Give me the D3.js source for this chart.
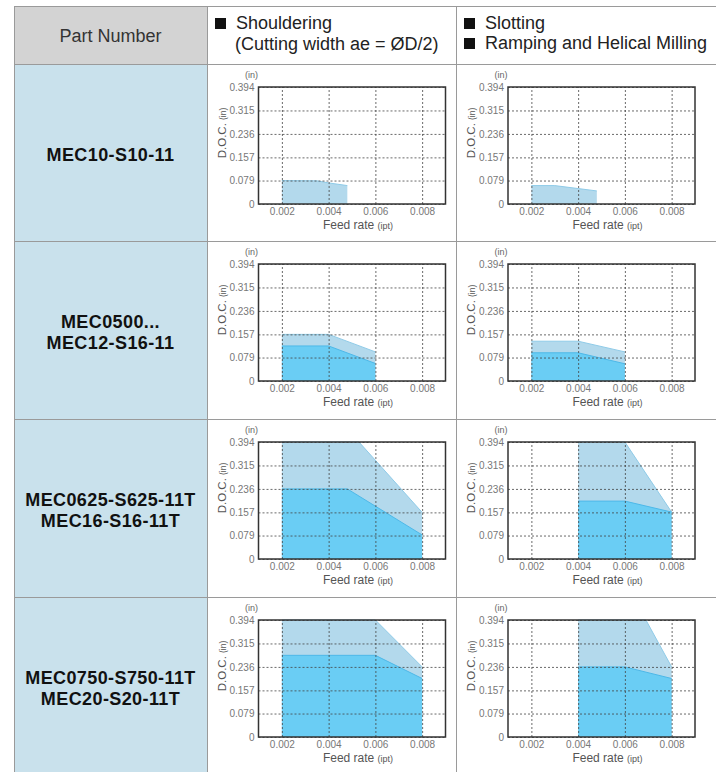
<!DOCTYPE html>
<html>
<head>
<meta charset="utf-8">
<script src="https://cdn.jsdelivr.net/npm/d3@7/dist/d3.min.js"></script>
<style>
  html, body { margin: 0; padding: 0; background: #fff; }
  svg { display: block; font-family: "Liberation Sans", Arial, sans-serif; }
</style>
</head>
<body>
<svg id="chart" width="716" height="772"></svg>
<script>
// ---- data ----
var feedTicks = [0.002, 0.004, 0.006, 0.008];
var docTicks = [0, 0.079, 0.157, 0.236, 0.315, 0.394];
var feedDomain = [0.001, 0.009];
var docDomain = [0, 0.394];

var partNumbers = [
  ["MEC10-S10-11"],
  ["MEC0500...", "MEC12-S16-11"],
  ["MEC0625-S625-11T", "MEC16-S16-11T"],
  ["MEC0750-S750-11T", "MEC20-S20-11T"]
];
var headerPart = "Part Number";
var headerShoulder = ["Shouldering", "(Cutting width ae = ØD/2)"];
var headerSlot = ["Slotting", "Ramping and Helical Milling"];

// [feed rate (ipt), D.O.C. (in)] -- light = upper limit, dark = lower limit
var shoulderUpper = [
  [[0.002, 0.079], [0.0035, 0.078], [0.004, 0.071], [0.0048, 0.062]],
  [[0.002, 0.157], [0.004, 0.157], [0.006, 0.098]],
  [[0.002, 0.394], [0.0053, 0.394], [0.008, 0.157]],
  [[0.002, 0.394], [0.006, 0.394], [0.008, 0.236]]
];
var shoulderLower = [
  null,
  [[0.002, 0.118], [0.004, 0.118], [0.006, 0.059]],
  [[0.002, 0.236], [0.0048, 0.236], [0.008, 0.081]],
  [[0.002, 0.275], [0.006, 0.275], [0.008, 0.197]]
];
var slotUpper = [
  [[0.002, 0.062], [0.003, 0.062], [0.004, 0.052], [0.0048, 0.044]],
  [[0.002, 0.134], [0.004, 0.134], [0.006, 0.098]],
  [[0.004, 0.394], [0.006, 0.394], [0.008, 0.158]],
  [[0.004, 0.394], [0.0069, 0.394], [0.008, 0.236]]
];
var slotLower = [
  null,
  [[0.002, 0.095], [0.004, 0.095], [0.006, 0.058]],
  [[0.004, 0.195], [0.006, 0.195], [0.008, 0.158]],
  [[0.004, 0.236], [0.006, 0.236], [0.008, 0.197]]
];

// ---- layout ----
var colX = [14, 207, 456, 720];
var rowY = [6, 64, 241, 419, 597, 776];
var border = "#9a9a9a";
var svg = d3.select("#chart");

// cell backgrounds
svg.append("rect").attr("x", colX[0]).attr("y", rowY[0])
  .attr("width", colX[1] - colX[0]).attr("height", rowY[1] - rowY[0]).attr("fill", "#d3d3d3");
svg.append("rect").attr("x", colX[0]).attr("y", rowY[1])
  .attr("width", colX[1] - colX[0]).attr("height", rowY[5] - rowY[1]).attr("fill", "#c9e1ec");

// grid of the table
var rule = svg.append("g").attr("stroke", border).attr("stroke-width", 1);
rowY.slice(0, 5).forEach(function(yy) {
  rule.append("line").attr("x1", colX[0]).attr("x2", 716).attr("y1", yy + 0.5).attr("y2", yy + 0.5);
});
colX.slice(0, 3).forEach(function(xx) {
  rule.append("line").attr("x1", xx + 0.5).attr("x2", xx + 0.5).attr("y1", rowY[0]).attr("y2", 772);
});

// header text
svg.append("text").attr("x", (colX[0] + colX[1]) / 2).attr("y", 41.5)
  .attr("text-anchor", "middle").attr("font-size", 18).attr("fill", "#333").text(headerPart);

function headerLine(hx, hy, txt, square) {
  if (square) {
    svg.append("rect").attr("x", hx).attr("y", hy - 11).attr("width", 11).attr("height", 11).attr("fill", "#111");
  }
  svg.append("text").attr("x", hx + 21).attr("y", hy).attr("font-size", 18).attr("fill", "#222").text(txt);
}
headerLine(colX[1] + 8, 29, headerShoulder[0], true);
headerLine(colX[1] + 7, 50, headerShoulder[1], false);
headerLine(colX[2] + 8, 29, headerSlot[0], true);
headerLine(colX[2] + 8, 49, headerSlot[1], true);

// part numbers
partNumbers.forEach(function(lines, i) {
  var cy = (rowY[i + 1] + rowY[i + 2]) / 2 + 2;
  var t = svg.append("text").attr("text-anchor", "middle").attr("font-weight", "bold")
    .attr("font-size", 18).attr("letter-spacing", 0.4).attr("fill", "#111");
  lines.forEach(function(s, j) {
    t.append("tspan").attr("x", (colX[0] + colX[1]) / 2)
      .attr("y", cy + 6 + (j - (lines.length - 1) / 2) * 21).text(s);
  });
});

// ---- small charts ----
var plotW = 187, plotH = 117;
var x = d3.scaleLinear().domain(feedDomain).range([0, plotW]);
var y = d3.scaleLinear().domain(docDomain).range([plotH, 0]);
var area = d3.area().x(function(d) { return x(d[0]); }).y0(plotH).y1(function(d) { return y(d[1]); });
var line = d3.line().x(function(d) { return x(d[0]); }).y(function(d) { return y(d[1]); });

function drawChart(left, plotTop, upper, lower) {
  var g = svg.append("g").attr("transform", "translate(" + left + "," + plotTop + ")");

  g.append("path").datum(upper).attr("d", area).attr("fill", "#b3d9ec");
  g.append("path").datum(upper).attr("d", line).attr("fill", "none").attr("stroke", "#8fcbe8").attr("stroke-width", 1);
  if (lower) {
    g.append("path").datum(lower).attr("d", area).attr("fill", "#6acdf4");
    g.append("path").datum(lower).attr("d", line).attr("fill", "none").attr("stroke", "#4db8e8").attr("stroke-width", 1);
  }

  var yAxis = g.append("g").call(d3.axisLeft(y).tickValues(docTicks).tickSize(-plotW).tickPadding(4)
    .tickFormat(function(d) { return d === 0 ? "0" : d3.format(".3f")(d); }));
  var xAxis = g.append("g").attr("transform", "translate(0," + plotH + ")")
    .call(d3.axisBottom(x).tickValues(feedTicks).tickSize(-plotH).tickPadding(4)
    .tickFormat(d3.format(".3f")));
  [yAxis, xAxis].forEach(function(a) {
    a.select(".domain").remove();
    a.selectAll(".tick line").attr("stroke", "#444").attr("stroke-width", 0.8).attr("stroke-dasharray", "2,2");
    a.selectAll(".tick text").attr("fill", "#777").attr("font-size", 10)
      .attr("font-family", "'Liberation Sans Narrow', 'Liberation Sans', Arial, sans-serif");
  });

  g.append("rect").attr("width", plotW).attr("height", plotH)
    .attr("fill", "none").attr("stroke", "#333").attr("stroke-width", 1.5);

  g.append("text").attr("x", -7).attr("y", -9).attr("text-anchor", "middle")
    .attr("font-size", 9).attr("fill", "#666").text("(in)");

  var yl = g.append("text").attr("transform", "translate(-33," + 46 + ") rotate(-90)")
    .attr("text-anchor", "middle").attr("fill", "#555");
  yl.append("tspan").attr("font-size", 11.5).text("D.O.C. ");
  yl.append("tspan").attr("font-size", 8.5).text("(in)");

  var xl = g.append("text").attr("x", plotW / 2 + 6).attr("y", plotH + 25)
    .attr("text-anchor", "middle").attr("fill", "#555");
  xl.append("tspan").attr("font-size", 12).text("Feed rate ");
  xl.append("tspan").attr("font-size", 9).text("(ipt)");
}

for (var i = 0; i < 4; i++) {
  var chartTop = rowY[i + 1] + 23;
  drawChart(colX[1] + 51.5, chartTop, shoulderUpper[i], shoulderLower[i]);
  drawChart(colX[2] + 52, chartTop, slotUpper[i], slotLower[i]);
}
</script>
</body>
</html>
